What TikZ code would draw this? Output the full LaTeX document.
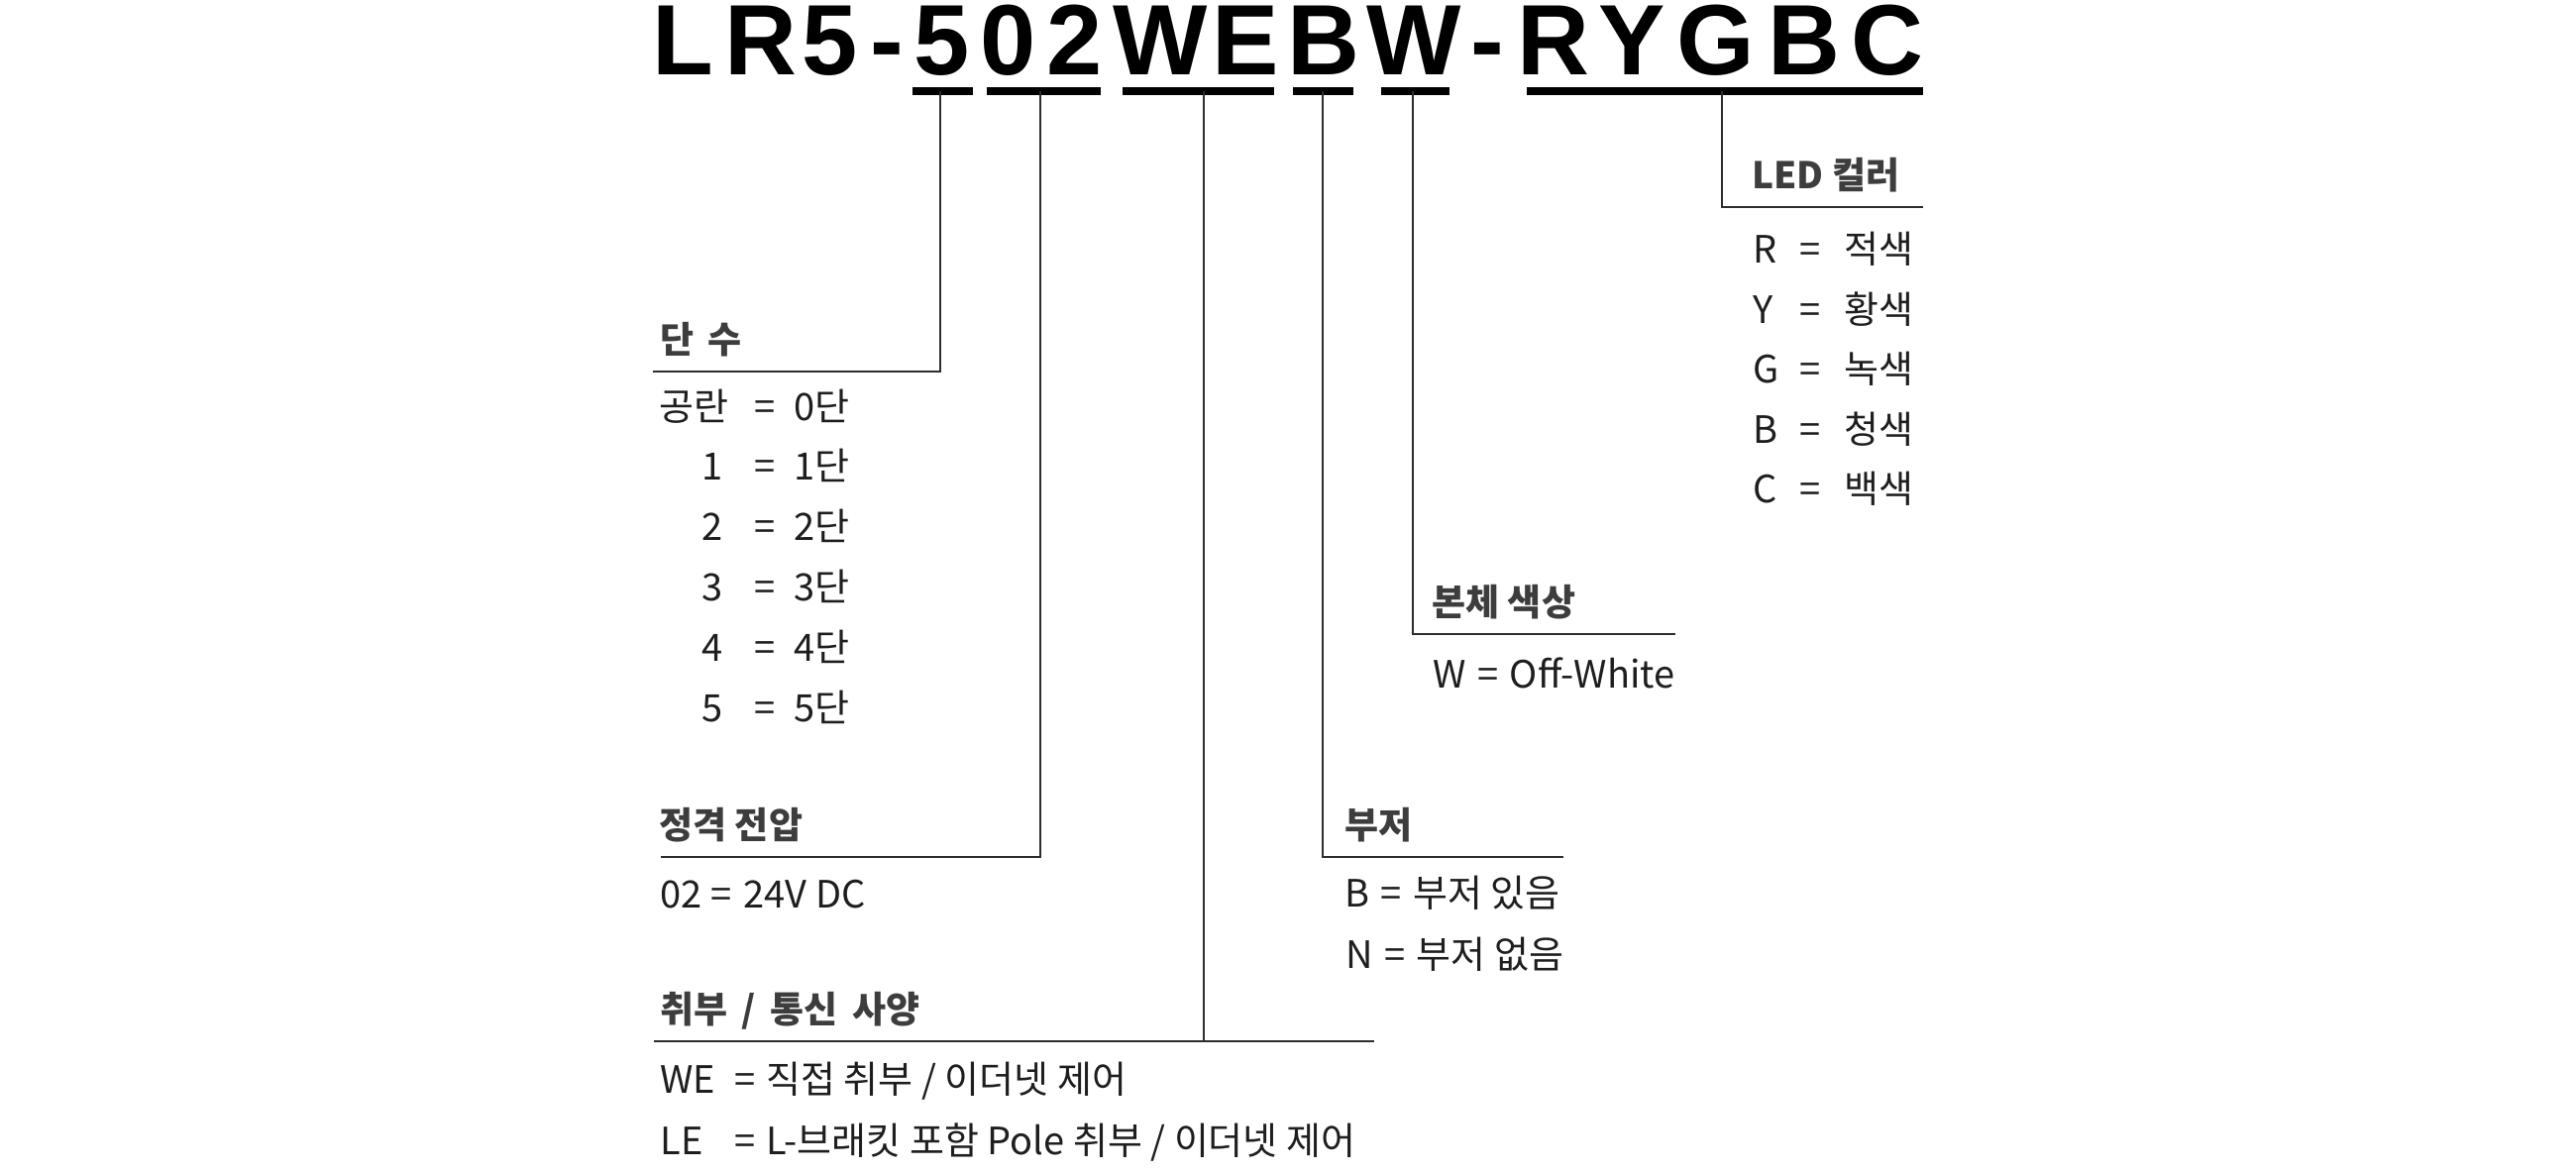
\documentclass[tikz,border=0pt]{standalone}
\usepackage{fontspec}
\newfontfamily\titlefont{Liberation Sans}
\newfontfamily\krfont{Noto Sans CJK KR}
\definecolor{headgray}{HTML}{3D3D3D}
\definecolor{itemblack}{HTML}{1E1E1E}
\definecolor{linegray}{HTML}{2D2D2D}
\newcommand{\wsp}{\hspace{3pt} }
\newcommand{\esp}{\hspace{1.5pt} }
\tikzset{
  titlech/.style={font=\titlefont\bfseries\fontsize{50.5}{51}\selectfont, inner sep=0pt, anchor=base},
  head/.style={font=\krfont\bfseries\fontsize{18.5}{20}\selectfont, text=headgray, inner sep=0pt, anchor=base west},
  item/.style={font=\krfont\fontsize{19}{21}\selectfont, text=itemblack, inner sep=0pt, anchor=base west},
  itemr/.style={item, anchor=base east},
  bar/.style={line width=4pt, draw=black},
  lead/.style={line width=1pt, draw=linegray},
}
\begin{document}
\begin{tikzpicture}[x=0.5pt,y=-0.5pt]
\fill[white] (0,0) rectangle (2600,1185);
\useasboundingbox (0,0) rectangle (2600,1185);

% title letters
\foreach \ch/\cx [count=\i] in {L/689.5,R/767.5,5/838,-/895.5,5/950.5,0/1018,2/1085,W/1171.5,E/1257,B/1336,W/1427,-/1501.5,R/1567.5,Y/1647,G/1732,B/1821,C/1904.5}
  \node[titlech] (t\i) at (\cx,75.5) {\ch};

% underline bars
\coordinate (b1l) at (921,92);  \coordinate (b1r) at (982,92);
\coordinate (b2l) at (996,92);  \coordinate (b2r) at (1111,92);
\coordinate (b3l) at (1133,92); \coordinate (b3r) at (1286,92);
\coordinate (b4l) at (1305,92); \coordinate (b4r) at (1366,92);
\coordinate (b5l) at (1394,92); \coordinate (b5r) at (1463,92);
\coordinate (b6l) at (1541,92); \coordinate (b6r) at (1941,92);
\foreach \k in {1,...,6} \draw[bar] (b\k l) -- (b\k r);

% leader lines
\coordinate (m1) at (949,92);  \coordinate (c1) at (949,375);  \coordinate (e1) at (659,375);
\coordinate (m2) at (1050,92); \coordinate (c2) at (1050,865); \coordinate (e2) at (667,865);
\coordinate (m3) at (1215,92); \coordinate (c3) at (1215,1051);
\coordinate (e3a) at (660,1051); \coordinate (e3b) at (1387,1051);
\coordinate (m4) at (1335,92); \coordinate (c4) at (1335,865); \coordinate (e4) at (1578,865);
\coordinate (m5) at (1426,92); \coordinate (c5) at (1426,640); \coordinate (e5) at (1691,640);
\coordinate (m6) at (1738,92); \coordinate (c6) at (1738,209); \coordinate (e6) at (1941,209);
\draw[lead] (m1) -- (c1) -- (e1);
\draw[lead] (m2) -- (c2) -- (e2);
\draw[lead] (m3) -- (c3);
\draw[lead] (e3a) -- (e3b);
\draw[lead] (m4) -- (c4) -- (e4);
\draw[lead] (m5) -- (c5) -- (e5);
\draw[lead] (m6) -- (c6) -- (e6);

% headings
\node[head] (h1) at (666,356) {단\wsp 수};
\node[head] (h2) at (665,846) {정격 전압};
\node[head] (h3) at (666,1032) {취부\wsp /\wsp 통신\wsp 사양};
\node[head] (h4) at (1357,846) {부저};
\node[head] (h5) at (1445,621) {본체 색상};
\node[head] (h6) at (1768,190) {LED 컬러};

% 단수 items
\node[item] (s0k) at (665,424) {공란};
\node[item] (s0e) at (761,424) {=};
\node[item] (s0v) at (801,424) {0단};
\foreach \nn/\yy in {1/484,2/545,3/606,4/667,5/728}{
  \node[itemr] (s\nn k) at (730,\yy) {\nn};
  \node[item] (s\nn e) at (761,\yy) {=};
  \node[item] (s\nn v) at (801,\yy) {\nn{}단};
}

% 정격 전압
\node[item] (v1) at (666,916) {02 = \hspace{2pt}24V DC};

% 취부 / 통신
\node[item] (w1k) at (666,1103) {WE};
\node[item] (w1e) at (741,1103) {=};
\node[item] (w1v) at (773,1103) {직접 취부 / 이더넷 제어};
\node[item] (w2k) at (666,1165) {LE};
\node[item] (w2e) at (741,1165) {=};
\node[item] (w2v) at (773,1165) {L-브래킷 포함 Pole 취부 / 이더넷 제어};

% 부저
\node[item] (z1) at (1357,915) {B\esp =\esp 부저 있음};
\node[item] (z2) at (1358,977) {N\esp =\esp 부저 없음};

% 본체 색상
\node[item] (c1t) at (1446,694) {W\esp =\esp Off-White};

% LED 컬러
\foreach \lk/\lw/\yy in {R/적색/265,Y/황색/326,G/녹색/386,B/청색/447,C/백색/507}{
  \node[item] (l\lk k) at (1769,\yy) {\lk};
  \node[item] (l\lk e) at (1816,\yy) {=};
  \node[item] (l\lk v) at (1861,\yy) {\lw};
}
\end{tikzpicture}
\end{document}
